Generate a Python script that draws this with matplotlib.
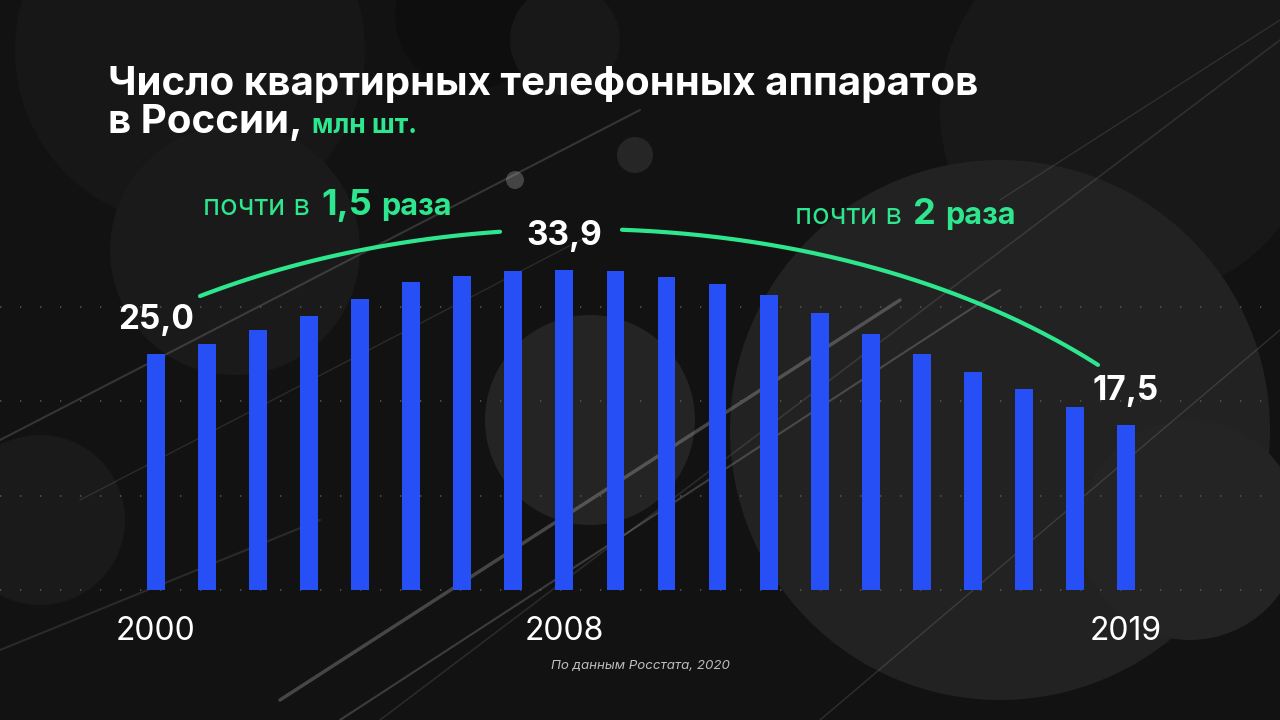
import numpy as np
import matplotlib
matplotlib.use("Agg")
import matplotlib.pyplot as plt
from matplotlib.patches import Circle

# Daten: Квартирные телефонные аппараты, млн шт.
years = list(range(2000, 2020))
values = [25.0, 26.0, 27.5, 29.0, 30.8, 32.6, 33.2, 33.8, 33.9, 33.8,
          33.1, 32.4, 31.2, 29.3, 27.1, 25.0, 23.1, 21.3, 19.4, 17.5]
tick_years = [2000, 2008, 2019]
tick_labels = ["2000", "2008", "2019"]
label_years = [2000, 2008, 2019]
label_texts = ["25,0", "33,9", "17,5"]

FONT = ["Inter", "DejaVu Sans"]
BG = "#121212"
BLUE = "#2650f6"
GREEN = "#2ee68e"
W, H = 1280, 720

plt.rcParams["font.family"] = FONT

fig = plt.figure(figsize=(W / 100, H / 100), dpi=100, facecolor=BG)

# Hintergrund-Achse in Pixelkoordinaten
bg = fig.add_axes([0, 0, 1, 1], zorder=0)
bg.set_xlim(0, W)
bg.set_ylim(H, 0)
bg.axis("off")
bg.set_facecolor(BG)

circles = [
    ((190, 50), 175, "#171717"),
    ((235, 250), 125, "#1a1a1a"),
    ((470, 15), 75, "#0e0e0e"),
    ((565, 40), 55, "#181818"),
    ((1130, 110), 190, "#181818"),
    ((40, 520), 85, "#1a1a1a"),
    ((590, 420), 105, "#242424"),
    ((1000, 430), 270, "#222222"),
    ((1190, 530), 110, "#242424"),
    ((635, 155), 18, "#262626"),
    ((515, 180), 9, "#444444"),
]
for (cx, cy), r, col in circles:
    bg.add_patch(Circle((cx, cy), r, facecolor=col, edgecolor="none"))

streaks = [
    ((0, 440), (640, 110), 1.5, 0.15),
    ((80, 500), (600, 230), 1.0, 0.10),
    ((280, 700), (900, 300), 2.5, 0.22),
    ((340, 720), (1000, 290), 1.5, 0.18),
    ((380, 720), (1280, 40), 1.2, 0.10),
    ((820, 720), (1280, 330), 1.0, 0.12),
    ((0, 650), (320, 520), 1.5, 0.10),
    ((1000, 200), (1280, 20), 1.0, 0.10),
]
for (x0, y0), (x1, y1), lw, a in streaks:
    bg.plot([x0, x1], [y0, y1], color="white", lw=lw, alpha=a,
            solid_capstyle="round")

# Daten-Achse: volle Figur, Skalen so gewählt, dass die Balken passen
px_per_year = 51.05
x0_px = 156
px_per_unit = 9.45
base_px = 590
ax = fig.add_axes([0, 0, 1, 1], zorder=1)
ax.patch.set_alpha(0)
ax.set_xlim(2000 - x0_px / px_per_year, 2000 + (W - x0_px) / px_per_year)
ax.set_ylim(-(H - base_px) / px_per_unit, base_px / px_per_unit)
ax.axis("off")

for gy in [0, 10, 20, 30]:
    ax.axhline(gy, color="#555555", lw=1.2, linestyle=(0, (0.8, 11.2)),
               zorder=1)

ax.bar(years, values, width=0.35, color=BLUE, zorder=2)

for yr, lab in zip(tick_years, tick_labels):
    ax.annotate(lab, (yr, 0), xytext=(0, -30), textcoords="offset points",
                ha="center", va="center", color="white", fontsize=23)

for yr, lab in zip(label_years, label_texts):
    v = values[years.index(yr)]
    ax.annotate(lab, (yr, v), xytext=(0, 24), textcoords="offset points",
                ha="center", va="center", color="white", fontsize=24,
                fontweight="bold")

# Bogen
cx, cy, a_, b_ = 580, 677, 722, 448
for xs in [np.linspace(200, 500, 100), np.linspace(622, 1098, 150)]:
    ys = cy - b_ * np.sqrt(1 - ((xs - cx) / a_) ** 2)
    bg.plot(xs, ys, color=GREEN, lw=3, solid_capstyle="round", zorder=3)

fig.canvas.draw()
renderer = fig.canvas.get_renderer()


def draw_runs(x, y, runs):
    for txt, weight, size, col, gap in runs:
        t = bg.text(x, y, txt, fontsize=size, fontweight=weight, color=col,
                    ha="left", va="baseline", zorder=5)
        bb = t.get_window_extent(renderer)
        x += bb.width + gap


# Titel
bg.text(108, 95, "Число квартирных телефонных аппаратов", fontsize=29,
        fontweight="bold", color="white", va="baseline", zorder=5)
draw_runs(108, 133, [("в России,", "bold", 29, "white", 9),
                     ("млн шт.", "bold", 19, GREEN, 0)])

draw_runs(203, 215, [("почти в", "normal", 21, GREEN, 11),
                     ("1,5", "bold", 26, GREEN, 9),
                     ("раза", "bold", 22, GREEN, 0)])
draw_runs(795, 224, [("почти в", "normal", 21, GREEN, 11),
                     ("2", "bold", 26, GREEN, 9),
                     ("раза", "bold", 22, GREEN, 0)])

bg.text(640, 666, "По данным Росстата, 2020", fontsize=9.6, style="italic",
        color="#bdbdbd", ha="center", va="center", zorder=5)

fig.savefig("out.png", dpi=100, facecolor=BG)
